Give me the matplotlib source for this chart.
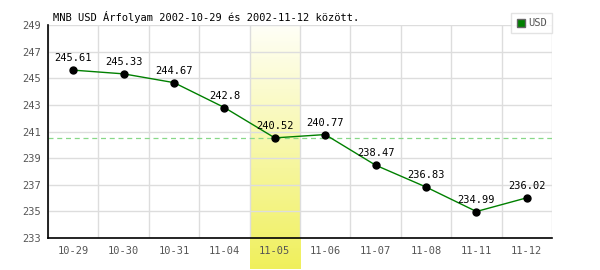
import numpy as np
import matplotlib
matplotlib.use("Agg")
from matplotlib import pyplot as plt
from matplotlib.patches import Patch

dates = ["10-29", "10-30", "10-31", "11-04", "11-05", "11-06", "11-07", "11-08", "11-11", "11-12"]
usd = [245.61, 245.33, 244.67, 242.8, 240.52, 240.77, 238.47, 236.83, 234.99, 236.02]
highlight = "11-05"
title = "MNB USD Árfolyam 2002-10-29 és 2002-11-12 között."

plt.rcParams['font.family'] = ['DejaVu Sans Mono']

fig = plt.figure(figsize=(6, 2.7), dpi=100)
ax = fig.add_axes([48 / 600, 1 - 238 / 270, 504 / 600, 213 / 270])

x = np.arange(len(dates))

# highlighted day: yellow gradient band going below the axis
hi = dates.index(highlight)
grad = np.linspace(0, 1, 256).reshape(-1, 1)
top = np.array([1.0, 1.0, 0.97])
bot = np.array([0.94, 0.94, 0.36])
rgb = top + (bot - top) * grad[:, :, None]
ax.imshow(rgb, extent=(hi - 0.5, hi + 0.5, 230.7, 249), aspect='auto',
          origin='upper', zorder=0, clip_on=False)
ax.set_xlim(-0.5, len(dates) - 0.5)
ax.set_ylim(233, 249)

ax.set_xticks(np.arange(-0.5, len(dates), 1), minor=False)
ax.set_xticks(x, minor=True)
ax.set_xticklabels([])
ax.set_xticklabels(dates, minor=True)
ax.set_yticks(np.arange(233, 250, 2))
ax.grid(True, which='major', color='#dddddd', lw=1)
ax.set_axisbelow(True)
ax.tick_params(which='both', length=0, labelsize=7.5, labelcolor='#555555')
ax.tick_params(axis='x', which='minor', pad=6)
ax.tick_params(axis='y', pad=5)

for s in ['top', 'right']:
    ax.spines[s].set_visible(False)
for s in ['left', 'bottom']:
    ax.spines[s].set_color('black')
    ax.spines[s].set_linewidth(1.2)

ax.axhline(usd[hi], color='#88d888', lw=0.9, ls=(0, (4, 3)), zorder=1)
ax.plot(x, usd, color='#008000', lw=1, zorder=3)
ax.plot(x, usd, 'o', color='black', ms=5, zorder=4)
for xi, v in zip(x, usd):
    ax.annotate(f"{v:g}", (xi, v), xytext=(0, 5), textcoords='offset points',
                ha='center', va='bottom', fontsize=7.5, color='black', zorder=5)

fig.text(53 / 600, 1 - 17 / 270, title, fontsize=7.5, color='black', va='center', ha='left')

leg = ax.legend(handles=[Patch(facecolor='#008000', edgecolor='#666666', label='USD')],
                loc='upper right', bbox_to_anchor=(552 / 600, 1 - 13 / 270),
                bbox_transform=fig.transFigure, fontsize=7.5, frameon=True,
                fancybox=False, handlelength=0.8, handleheight=0.8,
                handletextpad=0.3, borderpad=0.5, borderaxespad=0,
                labelcolor='#555555')
leg.get_frame().set_edgecolor('#dddddd')
leg.get_frame().set_linewidth(1)

fig.savefig("out.png", dpi=100)
